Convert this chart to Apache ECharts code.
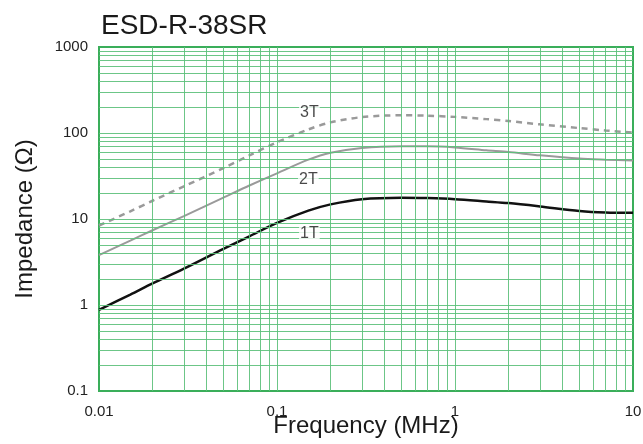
<!DOCTYPE html>
<html><head><meta charset="utf-8">
<script src="https://cdn.jsdelivr.net/npm/echarts@6/dist/echarts.min.js"></script>
<style>html,body{margin:0;padding:0;background:#fff}#c{width:643px;height:444px}</style>
</head><body><div id="c"></div>
<script>
// Frequency (MHz) sample points
const freq = [0.01, 0.015, 0.02, 0.03, 0.05, 0.07, 0.1, 0.15, 0.2, 0.3, 0.5, 0.7, 1, 1.5, 2, 3, 5, 7, 10];
// Impedance (Ohm) per winding
const imp1T = [0.88, 1.32, 1.78, 2.65, 4.5, 6.3, 9.0, 12.5, 14.8, 17.0, 17.7, 17.5, 17.0, 16.0, 15.3, 14.0, 12.4, 11.9, 11.8];
const imp2T = [3.8, 5.6, 7.4, 10.8, 17.7, 24.5, 34, 49, 59, 67, 70, 70, 68, 63, 60, 55, 50.4, 49, 48];
const imp3T = [8.4, 12.3, 16.3, 24, 39, 55, 78, 110, 133, 153, 161, 159, 154, 145, 138, 126, 114, 107, 101];
// Axis tick values
const xTicks = [0.01, 0.1, 1, 10];
const yTicks = [0.1, 1, 10, 100, 1000];
// Series labels and their positions (freq, impedance)
const seriesNames = ['1T', '2T', '3T'];
const labelPos = [[0.152, 6.7], [0.15, 29], [0.152, 172]];

const xGrid = [], yGrid = [];
for (let d = 0.01; d < 10; d *= 10) for (let m = 2; m <= 9; m++) xGrid.push(+(d * m).toPrecision(3));
for (let d = 0.1; d < 1000; d *= 10) for (let m = 2; m <= 9; m++) yGrid.push(+(d * m).toPrecision(3));
[0.1, 1].forEach(v => xGrid.push(v));
[1, 10, 100].forEach(v => yGrid.push(v));

const green = '#5cc07a';
const font = 'Liberation Sans, Arial, Helvetica, sans-serif';
const pair = arr => freq.map((f, i) => [f, arr[i]]);
const fmt = ticks => v => { const r = ticks.find(t => Math.abs(t - v) / t < 1e-6); return r === undefined ? '' : String(r); };

const chart = echarts.init(document.getElementById('c'), null, {renderer: 'canvas'});
chart.setOption({
  animation: false,
  textStyle: {fontFamily: font},
  title: {text: 'ESD-R-38SR', left: 96, top: 7,
    textStyle: {fontSize: 28, fontWeight: 'normal', color: '#1a1a1a', fontFamily: font}},
  grid: {left: 99, right: 10, top: 47, bottom: 53, show: true, borderColor: '#3aae5a', borderWidth: 2,
    backgroundColor: 'transparent', containLabel: false, outerBoundsMode: 'none'},
  xAxis: {type: 'log', logBase: 10, min: 0.01, max: 10,
    name: 'Frequency (MHz)', nameLocation: 'middle', nameGap: 23, nameMoveOverlap: false,
    nameTextStyle: {fontSize: 24, color: '#1a1a1a', fontFamily: font, verticalAlign: 'top'},
    axisLine: {show: false}, axisTick: {show: false}, splitLine: {show: false},
    axisLabel: {fontSize: 15, color: '#222', margin: 13, fontFamily: font, formatter: fmt(xTicks)}},
  yAxis: {type: 'log', logBase: 10, min: 0.1, max: 1000,
    name: 'Impedance (Ω)', nameLocation: 'middle', nameGap: 62, nameRotate: 90,
    nameTextStyle: {fontSize: 24, color: '#1a1a1a', fontFamily: font},
    axisLine: {show: false}, axisTick: {show: false}, splitLine: {show: false},
    axisLabel: {fontSize: 15, color: '#222', margin: 11, fontFamily: font, formatter: fmt(yTicks)}},
  series: [
    {type: 'line', data: [], silent: true, z: 1,
      markLine: {silent: true, symbol: 'none', label: {show: false}, animation: false,
        lineStyle: {color: green, width: 1, type: 'solid', opacity: 0.9},
        data: xGrid.map(v => ({xAxis: v})).concat(yGrid.map(v => ({yAxis: v})))}},
    {name: seriesNames[2], type: 'line', data: pair(imp3T), smooth: 0.3, showSymbol: false, z: 3,
      lineStyle: {color: '#9a9a9a', width: 2.5, type: [6, 5]}},
    {name: seriesNames[1], type: 'line', data: pair(imp2T), smooth: 0.3, showSymbol: false, z: 3,
      lineStyle: {color: '#9a9a9a', width: 2}},
    {name: seriesNames[0], type: 'line', data: pair(imp1T), smooth: 0.3, showSymbol: false, z: 4,
      lineStyle: {color: '#111', width: 2.5}},
    {type: 'scatter', symbolSize: 0, z: 5, silent: true,
      data: labelPos.map((p, i) => ({value: p, name: seriesNames[i]})),
      label: {show: true, position: 'inside', formatter: p => p.name, fontSize: 16, color: '#1a1a1a', fontFamily: font,
        backgroundColor: '#fff', padding: [0, 1]}}
  ]
});
</script></body></html>
